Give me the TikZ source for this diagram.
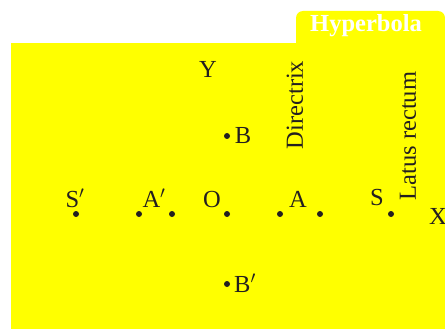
\documentclass[tikz,border=0pt]{standalone}
\usepackage{fontspec}
\setmainfont{Liberation Serif}
\definecolor{bgyellow}{HTML}{FFFF00}
\definecolor{ink}{HTML}{231F20}
\tikzset{
  pt/.style={circle,fill=ink,inner sep=0pt,minimum size=6pt},
  lbl/.style={text=ink,inner sep=0pt,font=\fontsize{24.5}{28}\selectfont},
}
\begin{document}
\begin{tikzpicture}[x=1pt,y=-1pt]
\useasboundingbox (0,0) rectangle (445,329);
\fill[bgyellow] (11,43) rectangle (445,329);
\fill[bgyellow,rounded corners=7pt] (296,50) -- (296,11) -- (445,11) -- (445,50) -- cycle;
\node[text=white,inner sep=0pt,font=\fontsize{24.5}{28}\selectfont\bfseries] (title) at (366,26) {Hyperbola};
% points on the axis
\node[pt] (Sp) at (76,214) {};
\node[pt] (Ap) at (139,214) {};
\node[pt] (d1) at (172,214) {};
\node[pt] (O) at (227,214) {};
\node[pt] (d2) at (280,214) {};
\node[pt] (A) at (320,214) {};
\node[pt] (S) at (391,214) {};
\node[pt] (B) at (227,136) {};
\node[pt] (Bp) at (227,284) {};
% labels
\node[lbl] (lSp) at (75,198) {S$'$};
\node[lbl] (lAp) at (154,198) {A$'$};
\node[lbl] (lO) at (212,200) {O};
\node[lbl] (lA) at (298,199) {A};
\node[lbl] (lS) at (377,198) {S};
\node[lbl] (lX) at (438,216) {X};
\node[lbl] (lY) at (208,69) {Y};
\node[lbl] (lB) at (243,136) {B};
\node[lbl] (lBp) at (245,283) {B$'$};
\node[lbl,rotate=90] (dir) at (295,105) {Directrix};
\node[lbl,rotate=90] (lat) at (408,136) {Latus rectum};
\end{tikzpicture}
\end{document}
